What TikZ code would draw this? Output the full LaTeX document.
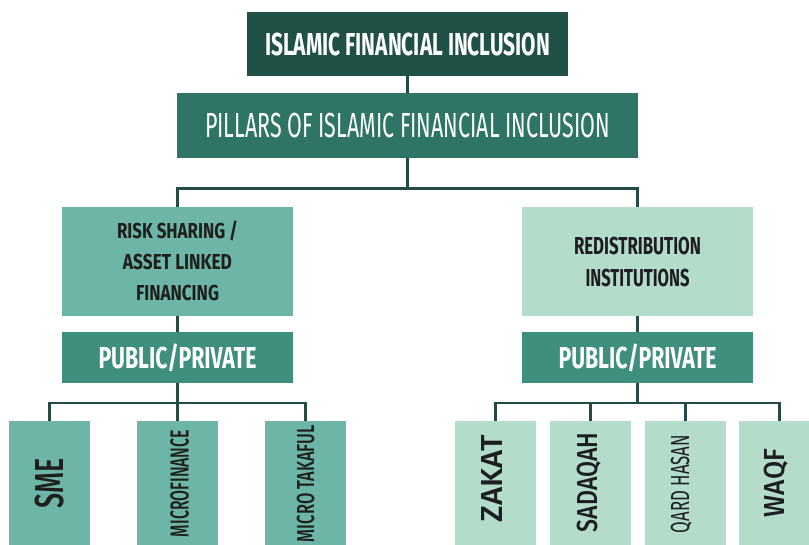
\documentclass[tikz,border=0pt]{standalone}
\usepackage{fontspec}
\setmainfont{Fira Sans}
\IfFontExistsTF{Fira Sans Medium}
  {\newfontfamily\medf{Fira Sans Medium}}
  {\newcommand\medf{\mdseries}}
\usepackage{graphicx}
\newlength\fitcapht
\newlength\fittxtw
\newcommand\fitt[3]{%
  \settoheight{\fitcapht}{H}%
  \settowidth{\fittxtw}{#3}%
  \pgfmathsetmacro\fitsx{#1/\fittxtw}%
  \pgfmathsetmacro\fitsy{#2/\fitcapht}%
  \raisebox{0pt}[#2][0pt]{\scalebox{\fitsx}[\fitsy]{#3}}}
\definecolor{cTop}{HTML}{1F5045}
\definecolor{cPil}{HTML}{2E7566}
\definecolor{cMid}{HTML}{6DB5A6}
\definecolor{cLight}{HTML}{B3DCCB}
\definecolor{cPP}{HTML}{3F8F7E}
\definecolor{cLine}{HTML}{234B44}
\definecolor{cTxt}{HTML}{1E1E1E}
\tikzset{
  box/.style={inner sep=0pt, outer sep=0pt, draw=none},
  conn/.style={draw=cLine, line width=2.2pt},
  lbl/.style={inner sep=0pt, outer sep=0pt, text=cTxt, font=\fontsize{12}{14}\selectfont\medf},
  multi/.style={align=center, font=\fontsize{12}{#1}\selectfont\bfseries, text=cTxt},
  child/.style={box, minimum width=81pt, minimum height=125pt}
}
\begin{document}
\begin{tikzpicture}[x=1pt,y=-1pt]
\useasboundingbox (0,0) rectangle (809,544);
\clip (0,0) rectangle (809,544);
% top levels
\node[box, fill=cTop, minimum width=321pt, minimum height=64pt, text=white, font=\bfseries] (top) at (407.5,44) {\fitt{285pt}{22pt}{ISLAMIC FINANCIAL INCLUSION}};
\node[box, fill=cPil, minimum width=461pt, minimum height=65pt, text=white] (pil) at (407.5,125.5) {\fitt{405pt}{24pt}{PILLARS OF ISLAMIC FINANCIAL INCLUSION}};
% pillars
\node[box, fill=cMid, minimum width=231pt, minimum height=109pt, multi=31pt] (lb) at (177.5,261.5)
  {\fitt{121pt}{15pt}{RISK SHARING /}\\\fitt{109pt}{15pt}{ASSET LINKED}\\\fitt{83pt}{15pt}{FINANCING}};
\node[box, fill=cLight, minimum width=231pt, minimum height=109pt, multi=32pt] (rb) at (637.5,261.5)
  {\fitt{127pt}{17pt}{REDISTRIBUTION}\\\fitt{104pt}{17pt}{INSTITUTIONS}};
\node[box, fill=cPP, minimum width=231pt, minimum height=51pt, text=white, font=\bfseries] (pp1) at (177.5,357.5) {\fitt{158pt}{21pt}{PUBLIC/PRIVATE}};
\node[box, fill=cPP, minimum width=231pt, minimum height=51pt, text=white, font=\bfseries] (pp2) at (637.5,357.5) {\fitt{158pt}{21pt}{PUBLIC/PRIVATE}};
% children
\node[child, fill=cMid] (sme) at (49.5,483.5) {};
\node[child, fill=cMid] (mf) at (177.5,483.5) {};
\node[child, fill=cMid] (mt) at (305.5,483.5) {};
\node[child, fill=cLight] (zk) at (495.5,483.5) {};
\node[child, fill=cLight] (sd) at (590.5,483.5) {};
\node[child, fill=cLight] (qh) at (685.5,483.5) {};
\node[child, fill=cLight] (wq) at (779.5,483.5) {};
\node[lbl, rotate=90] (smet) at (49,483) {\fitt{50pt}{28pt}{SME}};
\node[lbl, rotate=90] (mft) at (179.5,483.5) {\fitt{107pt}{18pt}{MICROFINANCE}};
\node[lbl, rotate=90] (mtt) at (305.5,483.5) {\fitt{117pt}{17pt}{MICRO TAKAFUL}};
\node[lbl, rotate=90] (zkt) at (491.5,478.5) {\fitt{87pt}{21pt}{ZAKAT}};
\node[lbl, rotate=90] (sdt) at (587,482.5) {\fitt{99pt}{20pt}{SADAQAH}};
\node[lbl, rotate=90, font=\fontsize{12}{14}\selectfont\mdseries] (qht) at (680,484) {\fitt{98pt}{18pt}{QARD HASAN}};
\node[lbl, rotate=90] (wqt) at (774,483) {\fitt{68pt}{20pt}{WAQF}};
% connectors
\draw[conn] (top.south) -- (pil.north);
\draw[conn] (pil.south) -- ++(0,30.5) -| (lb.north);
\draw[conn] (pil.south) ++(0,30.5) -| (rb.north);
\draw[conn] (lb.south) -- (pp1.north);
\draw[conn] (rb.south) -- (pp2.north);
\draw[conn] (pp1.south) -- ++(0,20) -| (sme.north);
\draw[conn] (pp1.south) -- (mf.north);
\draw[conn] (pp1.south) ++(0,20) -| (mt.north);
\draw[conn] (pp2.south) -- ++(0,20) -| (zk.north);
\draw[conn] (pp2.south) ++(0,20) -| (sd.north);
\draw[conn] (pp2.south) ++(0,20) -| (qh.north);
\draw[conn] (pp2.south) ++(0,20) -| (wq.north);
\end{tikzpicture}
\end{document}
